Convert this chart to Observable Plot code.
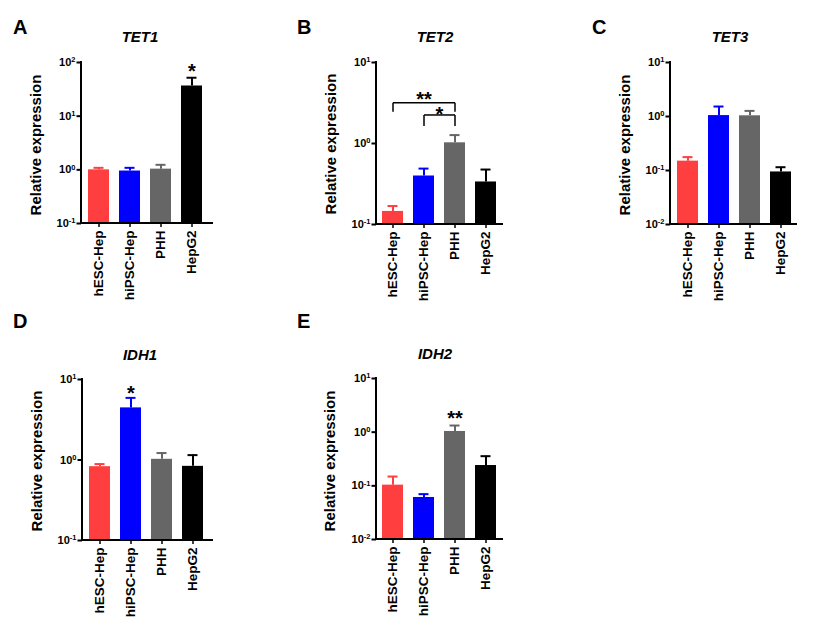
<!DOCTYPE html>
<html><head><meta charset="utf-8">
<script src="https://cdn.jsdelivr.net/npm/d3@7"></script>
<script src="https://cdn.jsdelivr.net/npm/@observablehq/plot@0.6"></script>
<style>
body{margin:0;background:#fff;}
#fig{position:relative;width:826px;height:637px;overflow:hidden;font-family:"Liberation Sans",Arial,sans-serif;}
#fig svg{position:absolute;overflow:visible;}
</style></head><body><div id="fig"></div>
<script>
// ---- data ----
const groups = ["hESC-Hep", "hiPSC-Hep", "PHH", "HepG2"];
const groupColors = ["#FF3F3F", "#0000FF", "#666666", "#000000"];
const genes = ["TET1", "TET2", "TET3", "IDH1", "IDH2"];
const panelLetters = ["A", "B", "C", "D", "E"];

const tet1Mean = [1.0, 0.95, 1.03, 36.5];
const tet1Err  = [1.09, 1.09, 1.24, 52];
const tet2Mean = [0.145, 0.397, 1.02, 0.335];
const tet2Err  = [0.169, 0.49, 1.27, 0.477];
const tet3Mean = [0.149, 1.04, 1.03, 0.094];
const tet3Err  = [0.177, 1.53, 1.27, 0.115];
const idh1Mean = [0.826, 4.44, 1.02, 0.834];
const idh1Err  = [0.89, 5.91, 1.22, 1.15];
const idh2Mean = [0.103, 0.0607, 1.03, 0.239];
const idh2Err  = [0.149, 0.070, 1.33, 0.357];

const ticksTET1 = [0.1, 1, 10, 100];
const ticksTET2 = [0.1, 1, 10];
const ticksTET3 = [0.01, 0.1, 1, 10];
const ticksIDH1 = [0.1, 1, 10];
const ticksIDH2 = [0.01, 0.1, 1, 10];

// significance stars above single bars
const starGroupsTET1 = ["HepG2"],     starYTET1 = [83],   starTextTET1 = ["*"];
const starGroupsIDH1 = ["hiPSC-Hep"], starYIDH1 = [7.65], starTextIDH1 = ["*"];
const starGroupsIDH2 = ["PHH"],       starYIDH2 = [2.26], starTextIDH2 = ["**"];

// significance brackets (TET2)
const bracketFrom = ["hESC-Hep", "hiPSC-Hep"];
const bracketTo   = ["PHH", "PHH"];
const bracketTop  = [3.19, 2.25];
const bracketFoot = [2.47, 1.64];
const bracketText = ["**", "*"];
const bracketTextY = [4.05, 2.62];

const yLabel = "Relative expression";

// ---- layout ----
const panels = [
  {mean: tet1Mean, err: tet1Err, ticks: ticksTET1, stars: [starGroupsTET1, starYTET1, starTextTET1],
   left: 0, top: 0, w: 280, h: 300, box: [81, 213, 62, 223], padOuter: 0.24, align: 0.4,
   letter: [13, 34], title: [140, 42], ylab: [41, 145]},
  {mean: tet2Mean, err: tet2Err, ticks: ticksTET2, brackets: true,
   left: 280, top: 0, w: 260, h: 300, box: [376, 503, 62, 224], padOuter: 0.17, align: 0.45,
   letter: [297, 34], title: [435, 42], ylab: [336, 144]},
  {mean: tet3Mean, err: tet3Err, ticks: ticksTET3,
   left: 560, top: 0, w: 266, h: 300, box: [670, 797, 62, 224], padOuter: 0.14, align: 0.55,
   letter: [592, 34], title: [730, 42], ylab: [630, 145]},
  {mean: idh1Mean, err: idh1Err, ticks: ticksIDH1, stars: [starGroupsIDH1, starYIDH1, starTextIDH1],
   left: 0, top: 300, w: 280, h: 337, box: [82, 213, 379, 540], padOuter: 0.24, align: 0.4,
   letter: [13, 328], title: [140, 360], ylab: [42, 461]},
  {mean: idh2Mean, err: idh2Err, ticks: ticksIDH2, stars: [starGroupsIDH2, starYIDH2, starTextIDH2],
   left: 280, top: 300, w: 260, h: 337, box: [376, 503, 378, 539], padOuter: 0.17, align: 0.45,
   letter: [297, 328], title: [435, 359], ylab: [335, 461]}
];

const fig = document.getElementById("fig");

function axisLines(index, scales, values, dims) {
  const g = d3.create("svg:g").attr("stroke", "#000").attr("stroke-width", 2).attr("fill", "none");
  const x0 = dims.marginLeft, x1 = dims.width - dims.marginRight;
  const y0 = dims.marginTop, y1 = dims.height - dims.marginBottom;
  g.append("line").attr("x1", x0).attr("x2", x0).attr("y1", y0 - 1).attr("y2", y1 + 1);
  g.append("line").attr("x1", x0 - 1).attr("x2", x1).attr("y1", y1).attr("y2", y1);
  return g.node();
}

panels.forEach((p, pi) => {
  const data = groups.map((g, i) => ({group: g, mean: p.mean[i], err: p.err[i], color: groupColors[i]}));
  const ymin = p.ticks[0], ymax = p.ticks[p.ticks.length - 1];
  const marks = [
    Plot.barY(data, {x: "group", y1: ymin, y2: "mean", fill: "color"}),
    Plot.ruleX(data, {x: "group", y1: "mean", y2: "err", stroke: "color", strokeWidth: 2}),
    Plot.tickY(data, {x: "group", y: "err", stroke: "color", strokeWidth: 2, insetLeft: 5.5, insetRight: 5.5}),
    axisLines,
    Plot.axisY({ticks: p.ticks, tickSize: 4.5, tickPadding: 1.5, strokeWidth: 2,
      tickFormat: d => String(Math.round(Math.log10(d))), label: null}),
    Plot.axisX({tickRotate: -90, tickSize: 4, tickPadding: 3, strokeWidth: 1.5, label: null})
  ];
  if (p.stars) {
    const [sg, sy, st] = p.stars;
    const sdata = sg.map((g, i) => ({group: g, y: sy[i], t: st[i]}));
    marks.push(Plot.text(sdata, {x: "group", y: "y", text: "t", fontSize: 20, fontWeight: "bold", dy: 5}));
  }
  if (p.brackets) {
    const links = [];
    bracketFrom.forEach((f, i) => {
      links.push({a: f, b: f, y1: bracketFoot[i], y2: bracketTop[i]});
      links.push({a: f, b: bracketTo[i], y1: bracketTop[i], y2: bracketTop[i]});
      links.push({a: bracketTo[i], b: bracketTo[i], y1: bracketTop[i], y2: bracketFoot[i]});
    });
    marks.push(Plot.link(links, {x1: "a", x2: "b", y1: "y1", y2: "y2", stroke: "#000", strokeWidth: 1.5}));
    const labs = bracketFrom.map((f, i) => ({
      a: groups.indexOf(f), b: groups.indexOf(bracketTo[i]), y: bracketTextY[i], t: bracketText[i]}));
    marks.push(Plot.text(labs, {
      x: d => groups[d.a], y: "y", text: "t", fontSize: 20, fontWeight: "bold", dy: 5,
      render: (index, scales, values, dims, context, next) => {
        const g = next(index, scales, values, dims, context);
        d3.select(g).selectAll("text").each(function(_, j) {
          const d = labs[index[j]];
          const shift = (scales.x(groups[d.b]) - scales.x(groups[d.a])) / 2;
          const el = d3.select(this);
          el.attr("transform", `translate(${shift},0) ` + (el.attr("transform") || ""));
        });
        return g;
      }
    }));
  }
  const [bx0, bx1, by0, by1] = p.box;
  const svg = Plot.plot({
    width: p.w, height: p.h,
    marginLeft: bx0 - p.left, marginRight: p.left + p.w - bx1,
    marginTop: by0 - p.top, marginBottom: p.top + p.h - by1,
    x: {domain: groups, paddingInner: 0.31, paddingOuter: p.padOuter, align: p.align},
    y: {type: "log", domain: [ymin, ymax]},
    color: {type: "identity"},
    style: {fontFamily: "'Liberation Sans', Arial, sans-serif", fontWeight: "bold", background: "transparent", color: "#000"},
    marks
  });
  svg.style.left = p.left + "px";
  svg.style.top = p.top + "px";
  const s = d3.select(svg);
  s.selectAll('g[aria-label="x-axis tick label"] text').attr("font-size", "13.5px").style("font-size", "13.5px");
  s.selectAll('g[aria-label="y-axis tick label"] text').each(function() {
    const el = d3.select(this);
    const e = el.text();
    el.text("10").attr("font-size", "11px").style("font-size", "11px");
    el.append("tspan").attr("dy", "-0.5em").style("font-size", "7.5px").text(e);
  });
  fig.appendChild(svg);
});

// overlay: panel letters, gene titles, y-axis labels
const ov = d3.select(fig).append("svg").attr("width", 826).attr("height", 637)
  .style("left", "0px").style("top", "0px").style("pointer-events", "none")
  .attr("font-family", "'Liberation Sans', Arial, sans-serif").attr("font-weight", "bold");
panels.forEach((p, i) => {
  ov.append("text").attr("x", p.letter[0]).attr("y", p.letter[1]).attr("font-size", 20).text(panelLetters[i]);
  ov.append("text").attr("x", p.title[0]).attr("y", p.title[1]).attr("font-size", 15)
    .attr("font-style", "italic").attr("text-anchor", "middle").text(genes[i]);
  ov.append("text").attr("transform", `translate(${p.ylab[0]},${p.ylab[1]}) rotate(-90)`)
    .attr("font-size", 15).attr("text-anchor", "middle").text(yLabel);
});
</script>
</body></html>
